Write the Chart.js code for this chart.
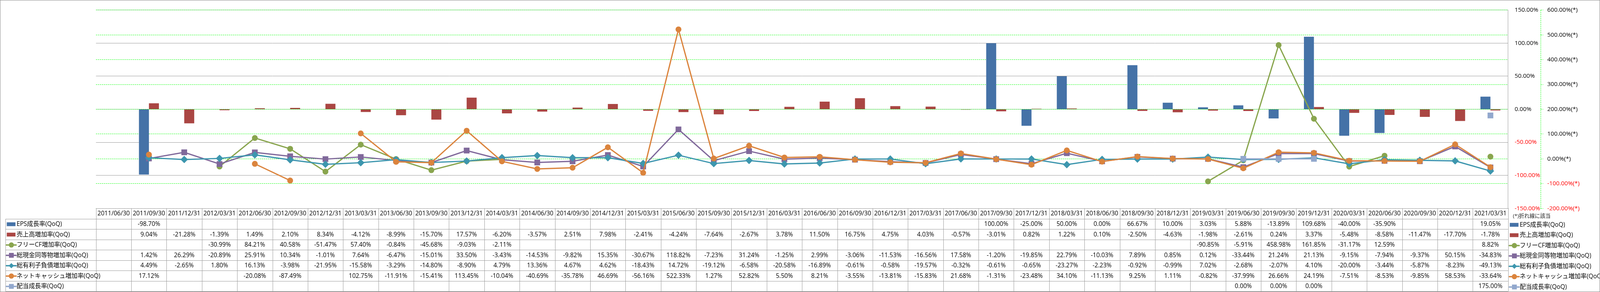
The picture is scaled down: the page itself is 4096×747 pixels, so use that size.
<!DOCTYPE html>
<html>
<head>
<meta charset="utf-8">
<style>
html,body{margin:0;padding:0;background:#fff;overflow:hidden}
canvas{display:block}
</style>
<script src="https://cdn.jsdelivr.net/npm/chart.js@4.4.1/dist/chart.umd.min.js"></script>
</head>
<body>
<canvas id="c" width="4096" height="747"></canvas>
<script>
// ---------------- DATA ----------------
const categories = [
  '2011/06/30','2011/09/30','2011/12/31','2012/03/31','2012/06/30','2012/09/30','2012/12/31',
  '2013/03/31','2013/06/30','2013/09/30','2013/12/31','2014/03/31','2014/06/30','2014/09/30',
  '2014/12/31','2015/03/31','2015/06/30','2015/09/30','2015/12/31','2016/03/31','2016/06/30',
  '2016/09/30','2016/12/31','2017/03/31','2017/06/30','2017/09/30','2017/12/31','2018/03/31',
  '2018/06/30','2018/09/30','2018/12/31','2019/03/31','2019/06/30','2019/09/30','2019/12/31',
  '2020/03/31','2020/06/30','2020/09/30','2020/12/31','2021/03/31'
];
const epsGrowth = [
  null,-98.70,null,null,null,null,null,null,null,null,null,null,null,null,null,null,null,null,null,null,
  null,null,null,null,null,100.00,-25.00,50.00,0.00,66.67,10.00,3.03,5.88,-13.89,109.68,-40.00,-35.90,null,null,19.05
];
const salesGrowth = [
  null,9.04,-21.28,-1.39,1.49,2.10,8.34,-4.12,-8.99,-15.70,17.57,-6.20,-3.57,2.51,7.98,-2.41,-4.24,-7.64,-2.67,3.78,
  11.50,16.75,4.75,4.03,-0.57,-3.01,0.82,1.22,0.10,-2.50,-4.63,-1.98,-2.61,0.24,3.37,-5.48,-8.58,-11.47,-17.70,-1.78
];
const freeCfGrowth = [
  null,null,null,-30.99,84.21,40.58,-51.47,57.40,-0.84,-45.68,-9.03,-2.11,null,null,null,null,null,null,null,null,
  null,null,null,null,null,null,null,null,null,null,null,-90.85,-5.91,458.98,161.85,-31.17,12.59,null,null,8.82
];
const cashGrowth = [
  null,1.42,26.29,-20.89,25.91,10.34,-1.01,7.64,-6.47,-15.01,33.50,-3.43,-14.53,-9.82,15.35,-30.67,118.82,-7.23,31.24,-1.25,
  2.99,-3.06,-11.53,-16.56,17.58,-1.20,-19.85,22.79,-10.03,7.89,0.85,0.12,-33.44,21.24,21.13,-9.15,-7.94,-9.37,50.15,-34.83
];
const debtGrowth = [
  null,4.49,-2.65,1.80,16.13,-3.98,-21.95,-15.58,-3.29,-14.80,-8.90,4.79,13.36,4.67,4.62,-18.43,14.72,-19.12,-6.58,-20.58,
  -16.89,-0.61,-0.58,-19.57,-0.32,-0.61,-0.65,-23.27,-2.23,-0.92,-0.99,7.02,-2.68,-2.07,4.10,-20.00,-3.44,-5.87,-8.23,-49.13
];
const netCashGrowth = [
  null,17.12,null,null,-20.08,-87.49,null,102.75,-11.91,-15.41,113.45,-10.04,-40.69,-35.78,46.69,-56.16,522.33,1.27,52.82,5.50,
  8.21,-3.55,-13.81,-15.83,21.68,-1.31,-23.48,34.10,-11.13,9.25,1.11,-0.82,-37.99,26.66,24.19,-7.51,-8.53,-9.85,58.53,-33.64
];
const dividendGrowth = [
  null,null,null,null,null,null,null,null,null,null,null,null,null,null,null,null,null,null,null,null,
  null,null,null,null,null,null,null,null,null,null,null,null,0.00,0.00,0.00,null,null,null,null,175.00
];
const leftTicks = { min: -150, max: 150, step: 50 };
const rightTicks = { min: -200, max: 600, step: 100 };

// ---------------- STYLE ----------------
const FONT = '"Open Sans", "Noto Sans CJK JP", sans-serif';
const series = [
  { label: 'EPS成長率(QoQ)',          data: epsGrowth,      color: '#4572A7', kind: 'bar' },
  { label: '売上高増加率(QoQ)',        data: salesGrowth,    color: '#AA4643', kind: 'bar' },
  { label: 'フリーCF増加率(QoQ)',      data: freeCfGrowth,   color: '#89A54E', kind: 'line', marker: 'circle',  r: 7.5 },
  { label: '総現金同等物増加率(QoQ)',  data: cashGrowth,     color: '#80699B', kind: 'line', marker: 'rect',    r: 10.4 },
  { label: '総有利子負債増加率(QoQ)',  data: debtGrowth,     color: '#3D96AE', kind: 'line', marker: 'rectRot', r: 9.5 },
  { label: 'ネットキャッシュ増加率(QoQ)', data: netCashGrowth, color: '#DB843D', kind: 'line', marker: 'circle',  r: 7.5 },
  { label: '配当成長率(QoQ)',          data: dividendGrowth, color: '#92A8CD', kind: 'line', marker: 'rect',    r: 10.4 }
];

const datasets = series.map((s, i) => {
  if (s.kind === 'bar') {
    return {
      type: 'bar', label: s.label, data: s.data, yAxisID: 'y',
      backgroundColor: s.color, borderWidth: 0,
      categoryPercentage: 0.566, barPercentage: 1, order: 20 + i
    };
  }
  return {
    type: 'line', label: s.label, data: s.data, yAxisID: 'y2',
    borderColor: s.color, backgroundColor: s.color, borderWidth: 3.2,
    pointStyle: s.marker, pointRadius: s.r, pointBorderWidth: 0,
    pointBackgroundColor: s.color, tension: 0, spanGaps: false,
    order: 10 - i
  };
});

// ---------------- TABLE / LEGEND LAYOUT ----------------
const TBL = { top: 532.7, headBot: 559.9, rowH: 26.5, legendLeft: 14.4 };
const GRID = '#9a9a9a';

function drawMarker(ctx, style, x, y, r, color) {
  ctx.fillStyle = color;
  ctx.beginPath();
  if (style === 'circle') ctx.arc(x, y, r, 0, Math.PI * 2);
  else if (style === 'rect') ctx.rect(x - r, y - r, 2 * r, 2 * r);
  else { ctx.moveTo(x, y - r); ctx.lineTo(x + r, y); ctx.lineTo(x, y + r); ctx.lineTo(x - r, y); ctx.closePath(); }
  ctx.fill();
}

function drawSwatch(ctx, s, x0, cy) {
  if (s.kind === 'bar') {
    ctx.fillStyle = s.color;
    ctx.fillRect(x0 + 1.1, cy - 4.9, 22.2, 9.8);
  } else {
    ctx.strokeStyle = s.color;
    ctx.lineWidth = 3.5;
    ctx.lineCap = 'round';
    ctx.beginPath(); ctx.moveTo(x0, cy); ctx.lineTo(x0 + 25, cy); ctx.stroke();
    const rr = s.marker === 'rect' ? 6.2 : 6.7;
    drawMarker(ctx, s.marker, x0 + 12.8, cy, rr, s.color);
  }
}

const tablePlugin = {
  id: 'dataTable',
  beforeDatasetsDraw(chart) {
    // dashed green axis line of the secondary scale
    const ctx = chart.ctx, ca = chart.chartArea, y2 = chart.scales.y2;
    ctx.save();
    ctx.strokeStyle = '#00ff00'; ctx.lineWidth = 1; ctx.setLineDash([3, 2]);
    const x = Math.round(y2.left) + 0.5;
    ctx.beginPath(); ctx.moveTo(x, ca.top); ctx.lineTo(x, ca.bottom); ctx.stroke();
    ctx.restore();
  },
  afterDraw(chart) {
    const ctx = chart.ctx;
    const xs = chart.scales.x;
    const n = categories.length;
    const half = (xs.getPixelForValue(1) - xs.getPixelForValue(0)) / 2;
    const x0 = xs.getPixelForValue(0) - half;
    const right = xs.getPixelForValue(n - 1) + half;
    const tBot = TBL.headBot + series.length * TBL.rowH;
    const snap = v => Math.round(v) + 0.5;

    ctx.save();
    ctx.strokeStyle = GRID; ctx.lineWidth = 1; ctx.setLineDash([]);
    ctx.beginPath();
    ctx.moveTo(x0, snap(TBL.top)); ctx.lineTo(right, snap(TBL.top));
    for (let k = 0; k <= series.length; k++) {
      const y = snap(TBL.headBot + k * TBL.rowH);
      ctx.moveTo(TBL.legendLeft, y); ctx.lineTo(right, y);
    }
    for (let i = 0; i <= n; i++) {
      const x = snap(x0 + i * 2 * half);
      ctx.moveTo(x, TBL.top); ctx.lineTo(x, tBot);
    }
    ctx.moveTo(snap(TBL.legendLeft), TBL.headBot); ctx.lineTo(snap(TBL.legendLeft), tBot);
    ctx.stroke();

    // header and values
    ctx.fillStyle = '#000';
    ctx.textAlign = 'center'; ctx.textBaseline = 'middle';
    ctx.font = '15.6px ' + FONT;
    categories.forEach((c, i) => ctx.fillText(c, xs.getPixelForValue(i), (TBL.top + TBL.headBot) / 2 + 0.5));
    series.forEach((s, k) => {
      const cy = TBL.headBot + (k + 0.5) * TBL.rowH + 0.5;
      s.data.forEach((v, i) => {
        if (v === null || v === undefined) return;
        ctx.fillStyle = '#000';
        ctx.fillText(v.toFixed(2) + '%', xs.getPixelForValue(i), cy);
      });
    });

    // left legend column
    series.forEach((s, k) => {
      const cy = TBL.headBot + (k + 0.5) * TBL.rowH + 0.5;
      drawSwatch(ctx, s, 16.3, cy);
      ctx.fillStyle = '#000'; ctx.textAlign = 'left'; ctx.textBaseline = 'middle';
      ctx.font = '15.6px ' + FONT;
      ctx.fillText(s.label, 42.5, cy);
    });

    // right legend
    ctx.fillStyle = '#222'; ctx.textAlign = 'left'; ctx.textBaseline = 'middle';
    ctx.font = '13.5px ' + FONT;
    ctx.fillText('(*)折れ線に該当', 3873, 552.7);
    series.forEach((s, k) => {
      const cy = TBL.headBot + (k + 0.5) * TBL.rowH + 2;
      drawSwatch(ctx, s, 3864, cy);
      ctx.fillStyle = '#000'; ctx.textAlign = 'left'; ctx.textBaseline = 'middle';
      ctx.font = '15.6px ' + FONT;
      ctx.fillText(s.label, 3890.4, cy);
    });

    // outer frame
    ctx.strokeStyle = '#8a8a8a'; ctx.lineWidth = 1;
    ctx.strokeRect(0.5, 0.5, chart.width - 1, chart.height - 1);
    ctx.restore();
  }
};

const tickColor = c => (c.tick && c.tick.value < 0) ? '#ff0000' : '#000000';

new Chart(document.getElementById('c'), {
  type: 'bar',
  data: { labels: categories, datasets },
  options: {
    responsive: false,
    devicePixelRatio: 1,
    animation: false,
    events: [],
    layout: { padding: { left: 245.7, top: 10.7, right: 0, bottom: 747 - 533.2 } },
    plugins: { legend: { display: false }, tooltip: { enabled: false }, title: { display: false } },
    scales: {
      x: {
        type: 'category', offset: true, display: true,
        grid: { display: false, drawTicks: false }, border: { display: false },
        ticks: { display: false },
        afterFit: s => { s.height = 0; }
      },
      y: {
        position: 'right', weight: 0,
        min: leftTicks.min, max: leftTicks.max,
        ticks: {
          stepSize: leftTicks.step, padding: 16.7, color: tickColor,
          font: { family: FONT, size: 15.3 },
          callback: v => Number(v).toFixed(2) + '%'
        },
        grid: { color: GRID, lineWidth: 1, drawTicks: false },
        border: { display: true, color: GRID, width: 1 },
        afterFit: s => { s.width = 83.6; }
      },
      y2: {
        position: 'right', weight: 1,
        min: rightTicks.min, max: rightTicks.max,
        ticks: {
          stepSize: rightTicks.step, padding: 10.4, color: tickColor,
          font: { family: FONT, size: 15.3 },
          callback: v => Number(v).toFixed(2) + '%(*)'
        },
        grid: {
          color: '#00ff00', lineWidth: 1, drawTicks: true, tickLength: 6.3,
          tickColor: '#00ff00', tickBorderDash: [3, 2]
        },
        border: { display: false, dash: [3, 2] },
        afterFit: s => { s.width = 4096 - 245.7 - 3615 - 83.6; }
      }
    }
  },
  plugins: [tablePlugin]
});
</script>
</body>
</html>
